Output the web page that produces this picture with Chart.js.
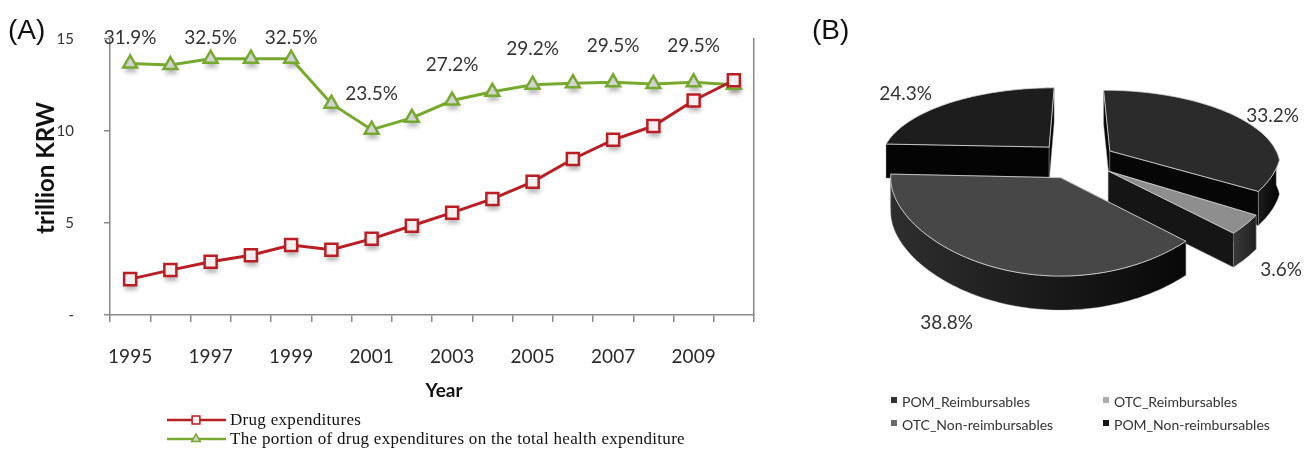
<!DOCTYPE html>
<html>
<head>
<meta charset="utf-8">
<title>Drug expenditures in Korea</title>
<script src="https://cdn.jsdelivr.net/npm/chart.js@4.4.1/dist/chart.umd.min.js"></script>
<style>
  html, body { margin: 0; padding: 0; background: #ffffff; }
  body { position: relative; width: 1307px; height: 450px; overflow: hidden; }
  .panel { position: absolute; }
  #panelA { left: 0; top: 0; width: 790px; height: 450px; }
  #panelB { left: 800px; top: -20px; width: 507px; height: 470px; }
</style>
</head>
<body>
<div class="panel" id="panelA"><canvas id="lineChart"></canvas></div>
<div class="panel" id="panelB"><canvas id="pieChart"></canvas></div>
<script>
// ---------- data ----------
const years = ['1995','1996','1997','1998','1999','2000','2001','2002',
               '2003','2004','2005','2006','2007','2008','2009','2010'];
const labelledYears = ['1995','1997','1999','2001','2003','2005','2007','2009'];
// drug expenditures, trillion KRW
const drugExpenditures = [1.95, 2.44, 2.89, 3.25, 3.80, 3.55, 4.14, 4.85,
                          5.56, 6.31, 7.24, 8.48, 9.52, 10.27, 11.66, 12.76];
// share of drug expenditures in total health expenditure, %
const drugShare = [31.9, 31.7, 32.5, 32.5, 32.5, 26.8, 23.5, 25.0,
                   27.2, 28.3, 29.2, 29.4, 29.5, 29.3, 29.5, 29.2];
const expenditureTicks = [0, 5, 10, 15];
const seriesNames = ['Drug expenditures',
                     'The portion of drug expenditures on the total health expenditure'];

const segmentNames = ['POM_Reimbursables', 'OTC_Reimbursables',
                      'OTC_Non-reimbursables', 'POM_Non-reimbursables'];
const segmentShares = [33.2, 3.6, 38.8, 24.3];

// ---------- styles ----------
const RED = '#b91e25';
const GREEN = '#77a92f';
const AXIS = '#8a8a8a';
const TEXT = '#333333';
const SANS = 'Lato, "Open Sans", sans-serif';

const pieTop = ['#2b2b2b', '#8e8e8e', '#474747', '#1d1d1d'];
const pieSide = ['#060606', '#151515', '#0b0b0b', '#040404'];
const pieWall = [['#1c1c1c', '#050505'], ['#3a3a3a', '#202020'],
                 ['#2e2e2e', '#080808'], ['#141414', '#050505']];
const pieKey = ['#333333', '#adadad', '#696969', '#161616'];
const pieLabelNudge = [[13, 5], [8, 0], [-36, 0], [-33, 0]];
// tilt: vertical squash; persp: front/back depth cue; shrink: narrowing of the far side
const PIE = { tilt: 0.46, persp: 0.18, shrink: 0.18, depth: 34, explode: 40, labelR: 1.2 };

Chart.defaults.font.family = SANS;
Chart.defaults.color = TEXT;

// ---------- panel A helpers ----------
function pointPath(ctx, style, x, y, r) {
  ctx.beginPath();
  if (style === 'rect') {
    const s = r * Math.SQRT1_2;
    ctx.rect(x - s, y - s, 2 * s, 2 * s);
  } else {
    for (let k = 0; k < 3; k++) {
      const a = k * 2 * Math.PI / 3;
      const px = x + Math.sin(a) * r, py = y - Math.cos(a) * r;
      if (k === 0) ctx.moveTo(px, py); else ctx.lineTo(px, py);
    }
    ctx.closePath();
  }
}

const panelA = {
  id: 'panelA',
  beforeDatasetsDraw(chart) {
    // soft drop shadows under the markers
    const ctx = chart.ctx;
    ctx.save();
    ctx.filter = 'blur(2px)';
    ctx.fillStyle = 'rgba(0,0,0,0.28)';
    chart.data.datasets.forEach((ds, di) => {
      chart.getDatasetMeta(di).data.forEach(pt => {
        pointPath(ctx, ds.pointStyle, pt.x + 1, pt.y + 5, ds.pointRadius);
        ctx.fill();
      });
    });
    ctx.restore();
  },
  afterDatasetsDraw(chart) {
    // percentage labels above the share series
    const ctx = chart.ctx;
    const pts = chart.getDatasetMeta(1).data;
    ctx.save();
    ctx.font = '19px ' + SANS;
    ctx.fillStyle = TEXT;
    ctx.textAlign = 'center';
    ctx.textBaseline = 'middle';
    years.forEach((yr, i) => {
      if (!labelledYears.includes(yr)) return;
      const p = pts[i];
      const y = Math.max(chart.chartArea.top - 1, p.y - 36);
      ctx.fillText(drugShare[i].toFixed(1) + '%', p.x, y);
    });
    ctx.restore();
  },
  afterDraw(chart) {
    const ctx = chart.ctx;
    ctx.save();
    ctx.fillStyle = '#111';
    ctx.textBaseline = 'middle';
    ctx.textAlign = 'left';
    ctx.font = '28px "Liberation Sans", Arial, sans-serif';
    ctx.fillText('(A)', 8, 31);

    ctx.font = 'bold 19px ' + SANS;
    ctx.textAlign = 'center';
    ctx.fillText('Year', 444, 391);

    ctx.save();
    ctx.translate(46, 168);
    ctx.rotate(-Math.PI / 2);
    ctx.font = 'bold 24px ' + SANS;
    ctx.fillText('trillion KRW', 0, 0);
    ctx.restore();

    // legend
    const rows = [420, 439];
    chart.data.datasets.forEach((ds, i) => {
      const y = rows[i];
      ctx.strokeStyle = ds.borderColor;
      ctx.lineWidth = 2.5;
      ctx.beginPath();
      ctx.moveTo(167, y);
      ctx.lineTo(226, y);
      ctx.stroke();
      pointPath(ctx, ds.pointStyle, 196, y, ds.pointStyle === 'rect' ? 5.5 : 5);
      ctx.fillStyle = ds.pointBackgroundColor;
      ctx.fill();
      ctx.lineWidth = 1.5;
      ctx.stroke();
      ctx.fillStyle = '#111';
      ctx.textAlign = 'left';
      ctx.font = '17px "Liberation Serif", "Times New Roman", serif';
      ctx.letterSpacing = '0.3px';
      ctx.fillText(ds.label, 230, y + 1);
      ctx.letterSpacing = '0px';
    });
    ctx.restore();
  }
};

new Chart(document.getElementById('lineChart'), {
  type: 'line',
  data: {
    labels: years,
    datasets: [
      {
        label: seriesNames[0],
        data: drugExpenditures,
        yAxisID: 'y',
        borderColor: RED,
        borderWidth: 3,
        pointStyle: 'rect',
        pointRadius: 8.5,
        pointBorderWidth: 2.5,
        pointBorderColor: RED,
        pointBackgroundColor: '#f5efef',
        tension: 0
      },
      {
        label: seriesNames[1],
        data: drugShare,
        yAxisID: 'y2',
        borderColor: GREEN,
        borderWidth: 3,
        pointStyle: 'triangle',
        pointRadius: 8,
        pointBorderWidth: 2.5,
        pointBorderColor: GREEN,
        pointBackgroundColor: '#d3d3d3',
        tension: 0
      }
    ]
  },
  options: {
    responsive: true,
    maintainAspectRatio: false,
    animation: false,
    events: [],
    layout: { padding: { top: 34, left: 0, right: 0, bottom: 0 } },
    plugins: { legend: { display: false }, tooltip: { enabled: false } },
    scales: {
      x: {
        type: 'category',
        offset: true,
        afterFit: s => { s.height = 135; },
        grid: { display: true, drawOnChartArea: false, drawTicks: true, tickLength: 7,
                offset: true, color: AXIS, lineWidth: 1.5 },
        border: { display: true, color: AXIS, width: 1.5 },
        ticks: {
          autoSkip: false, maxRotation: 0, padding: 23,
          font: { size: 19 }, color: '#2a2a2a',
          callback: (v, i) => labelledYears.includes(years[i]) ? years[i] : ''
        }
      },
      y: {
        type: 'linear',
        position: 'left',
        min: 0, max: 15,
        afterFit: s => { s.width = 110; },
        afterBuildTicks: s => { s.ticks = expenditureTicks.map(v => ({ value: v })); },
        grid: { display: true, drawOnChartArea: false, drawTicks: true, tickLength: 6,
                color: AXIS, lineWidth: 1.5 },
        border: { display: true, color: AXIS, width: 1.5 },
        ticks: {
          padding: 30, font: { size: 15 }, color: TEXT,
          callback: v => v === 0 ? '-' : String(v)
        }
      },
      y2: {
        type: 'linear',
        position: 'right',
        min: 0, max: 35,
        afterFit: s => { s.width = 36; },
        grid: { display: false },
        border: { display: true, color: AXIS, width: 1.5 },
        ticks: { display: false }
      }
    }
  },
  plugins: [panelA]
});

// ---------- panel B: exploded 3D pie ----------
const pie3d = {
  id: 'pie3d',
  beforeDatasetsDraw(chart) {
    const ctx = chart.ctx;
    const arcs = chart.getDatasetMeta(0).data;
    if (!arcs.length) return false;
    const R = arcs[0].outerRadius, cx = arcs[0].x, cy = arcs[0].y;
    const D = PIE.depth;
    const P = (px, py, z) => [
      cx + px * (1 + PIE.shrink * Math.min(py, 0) / R),
      cy + PIE.tilt * py * (1 + PIE.persp * py / R) + z
    ];
    const slices = arcs.map((a, i) => {
      const mid = (a.startAngle + a.endAngle) / 2;
      return { i, s: a.startAngle, e: a.endAngle,
               ox: PIE.explode * Math.cos(mid), oy: PIE.explode * Math.sin(mid) };
    });
    slices.sort((a, b) => a.oy - b.oy);

    const poly = (pts) => {
      ctx.beginPath();
      pts.forEach((p, k) => k ? ctx.lineTo(p[0], p[1]) : ctx.moveTo(p[0], p[1]));
      ctx.closePath();
    };

    ctx.save();
    ctx.lineJoin = 'round';
    for (const sl of slices) {
      const rim = (a, z) => P(sl.ox + R * Math.cos(a), sl.oy + R * Math.sin(a), z);
      const apex = z => P(sl.ox, sl.oy, z);
      const along = (a0, a1, z) => {
        const n = Math.max(2, Math.ceil((a1 - a0) / 0.02));
        const out = [];
        for (let k = 0; k <= n; k++) out.push(rim(a0 + (a1 - a0) * k / n, z));
        return out;
      };
      const faces = [{ a: sl.s, n: sl.s - Math.PI / 2 }, { a: sl.e, n: sl.e + Math.PI / 2 }];
      const drawFace = f => {
        poly([apex(0), rim(f.a, 0), rim(f.a, D), apex(D)]);
        ctx.fillStyle = pieSide[sl.i];
        ctx.fill();
        ctx.strokeStyle = 'rgba(150,150,150,0.55)';
        ctx.lineWidth = 0.8;
        ctx.stroke();
      };
      faces.filter(f => Math.sin(f.n) <= 0).forEach(drawFace);

      const w0 = Math.max(sl.s, 0), w1 = Math.min(sl.e, Math.PI);
      if (w1 > w0) {
        const top = along(w0, w1, 0);
        const pts = top.concat(along(w0, w1, D).reverse());
        const xs = pts.map(p => p[0]);
        const g = ctx.createLinearGradient(Math.min(...xs), 0, Math.max(...xs), 0);
        g.addColorStop(0, pieWall[sl.i][0]);
        g.addColorStop(1, pieWall[sl.i][1]);
        poly(pts);
        ctx.fillStyle = g;
        ctx.fill();
        ctx.strokeStyle = 'rgba(170,170,170,0.5)';
        ctx.lineWidth = 0.8;
        ctx.stroke();
      }
      faces.filter(f => Math.sin(f.n) > 0).forEach(drawFace);

      poly([apex(0)].concat(along(sl.s, sl.e, 0)));
      ctx.fillStyle = pieTop[sl.i];
      ctx.fill();
      ctx.strokeStyle = 'rgba(215,215,215,0.85)';
      ctx.lineWidth = 1;
      ctx.stroke();

      const mid = (sl.s + sl.e) / 2;
      const r = PIE.labelR * R;
      const lp = P(sl.ox + r * Math.cos(mid), sl.oy + r * Math.sin(mid), Math.sin(mid) > 0 ? D : 0);
      sl.label = [lp[0] + pieLabelNudge[sl.i][0], lp[1] + pieLabelNudge[sl.i][1]];
    }
    ctx.restore();
    chart.$pieLabels = slices;
    return false;
  },
  afterDraw(chart) {
    const ctx = chart.ctx;
    ctx.save();
    ctx.fillStyle = TEXT;
    ctx.textAlign = 'center';
    ctx.textBaseline = 'middle';
    ctx.font = '19px ' + SANS;
    (chart.$pieLabels || []).forEach(sl => {
      ctx.fillText(segmentShares[sl.i].toFixed(1) + '%', sl.label[0], sl.label[1]);
    });

    ctx.fillStyle = '#111';
    ctx.textAlign = 'left';
    ctx.font = '28px "Liberation Sans", Arial, sans-serif';
    ctx.fillText('(B)', 12, 51);

    // legend, two columns
    const cols = [94, 306], rows = [422, 445];
    ctx.font = '14px ' + SANS;
    segmentNames.forEach((name, i) => {
      const x = cols[i % 2], y = rows[Math.floor(i / 2)];
      ctx.fillStyle = pieKey[i];
      ctx.fillRect(x - 3, y - 5, 6, 6);
      ctx.fillStyle = TEXT;
      ctx.fillText(name, x + 8, y);
    });
    ctx.restore();
  }
};

new Chart(document.getElementById('pieChart'), {
  type: 'pie',
  data: {
    labels: segmentNames,
    datasets: [{ data: segmentShares, backgroundColor: pieTop, borderWidth: 0 }]
  },
  options: {
    responsive: true,
    maintainAspectRatio: false,
    animation: false,
    events: [],
    layout: { padding: { left: 106, right: 61, top: 10, bottom: 120 } },
    plugins: { legend: { display: false }, tooltip: { enabled: false } }
  },
  plugins: [pie3d]
});
</script>
</body>
</html>
